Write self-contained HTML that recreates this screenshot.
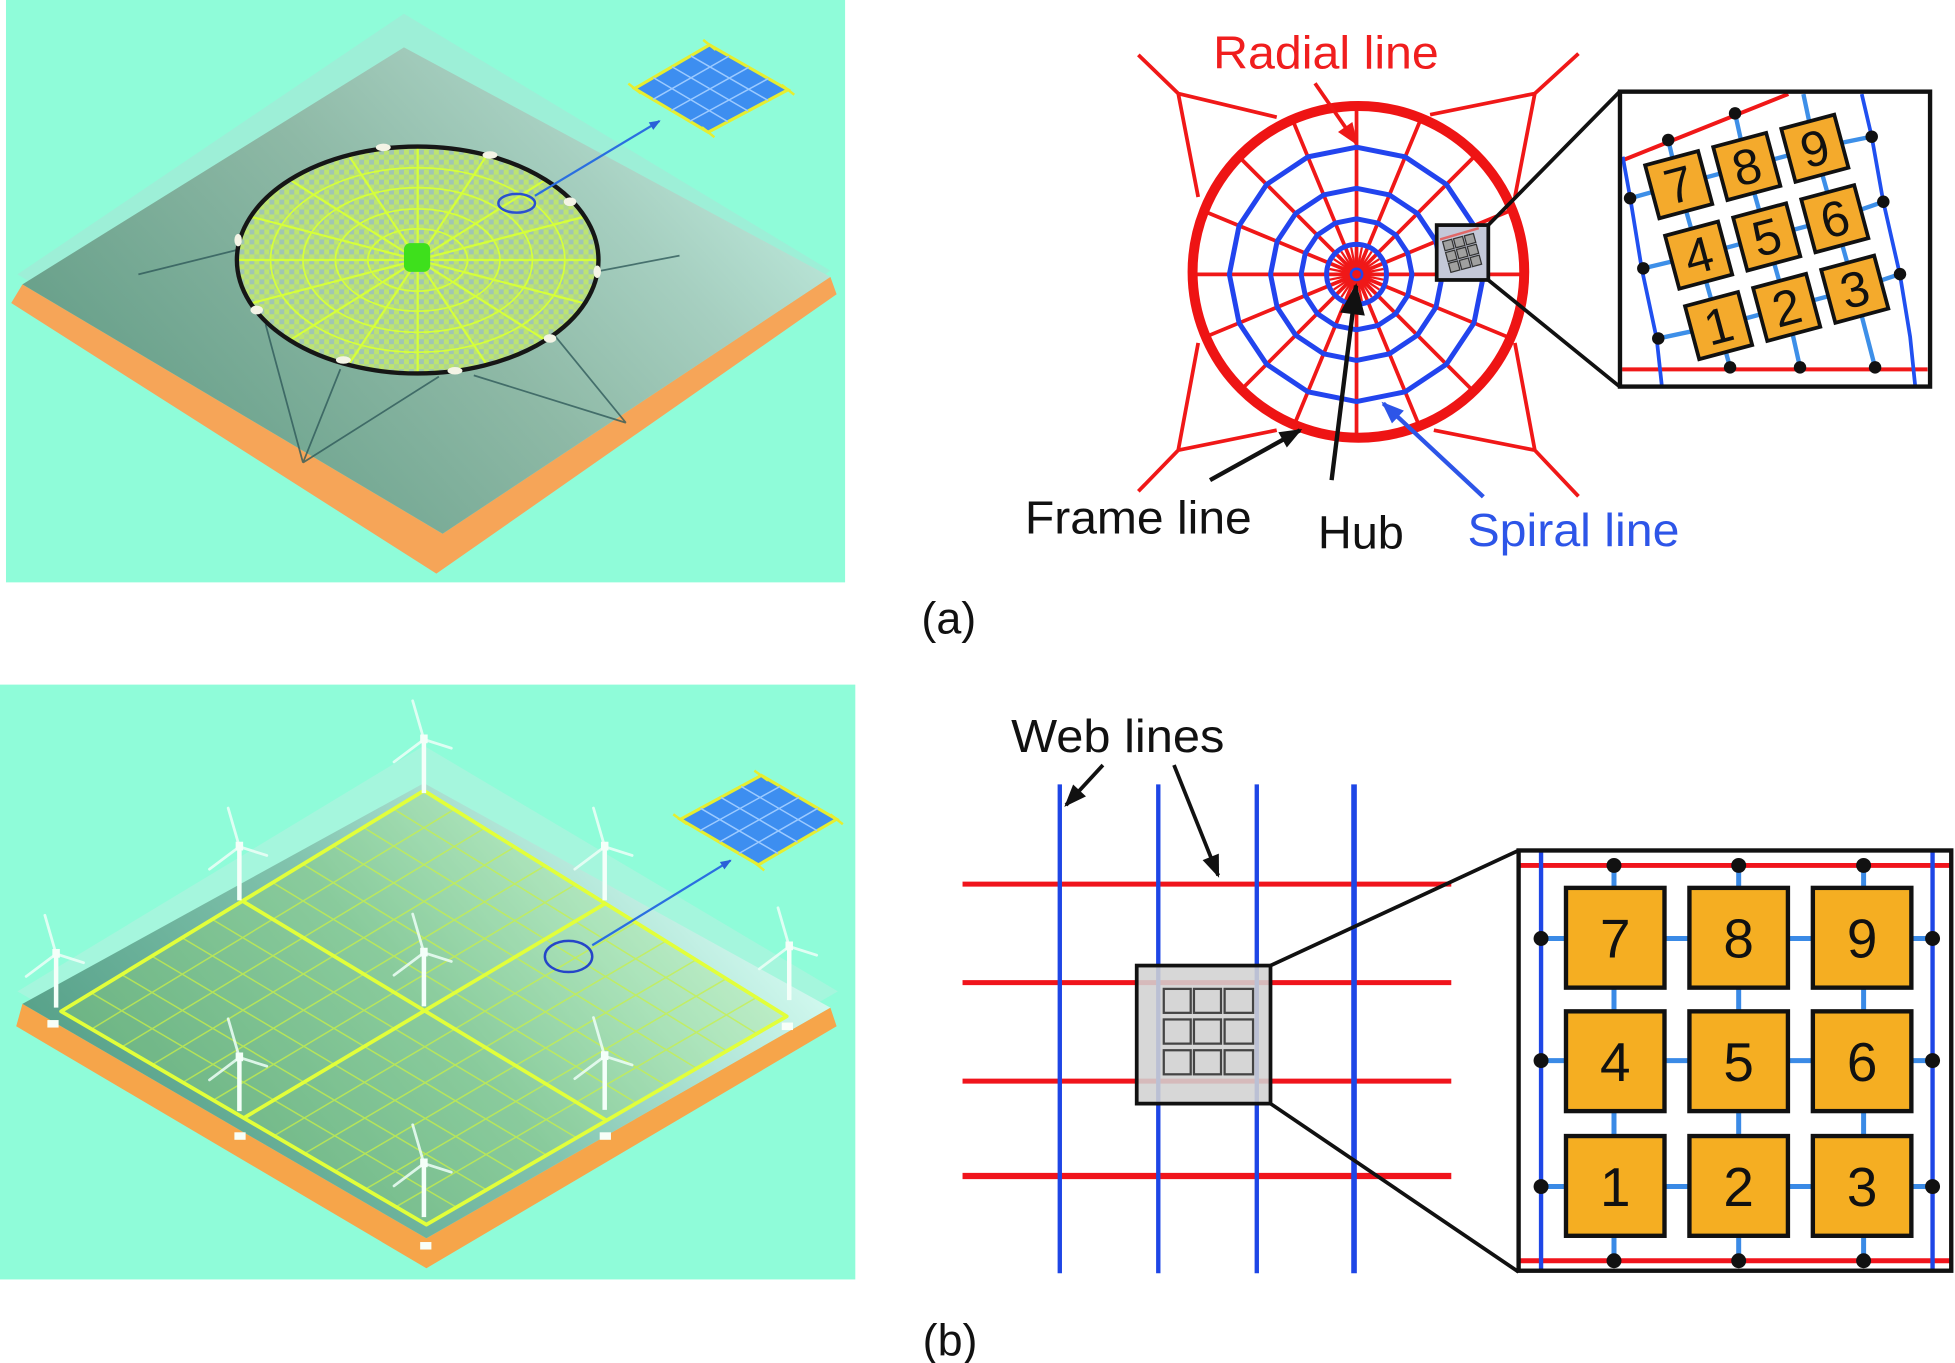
<!DOCTYPE html>
<html><head><meta charset="utf-8">
<style>
html,body{margin:0;padding:0;background:#fff;}
svg{display:block;}
text{font-family:"Liberation Sans",Arial,sans-serif;}
</style></head>
<body>
<svg width="1955" height="1363" viewBox="0 0 1568 1093" preserveAspectRatio="none" xmlns="http://www.w3.org/2000/svg">
<defs>
  <linearGradient id="plateA" gradientUnits="userSpaceOnUse" x1="150" y1="390" x2="520" y2="50">
    <stop offset="0" stop-color="#68a08a"/>
    <stop offset="0.5" stop-color="#8eb9a6"/>
    <stop offset="0.8" stop-color="#a6cfc0"/>
    <stop offset="1" stop-color="#b8e4d6"/>
  </linearGradient>
  <linearGradient id="plateB" gradientUnits="userSpaceOnUse" x1="150" y1="960" x2="520" y2="640">
    <stop offset="0" stop-color="#58a28a"/>
    <stop offset="0.5" stop-color="#82c4ae"/>
    <stop offset="0.8" stop-color="#b2e6d8"/>
    <stop offset="1" stop-color="#d0f8ee"/>
  </linearGradient>
  <pattern id="chk" patternUnits="userSpaceOnUse" width="8" height="8">
    <rect width="8" height="8" fill="#bde470"/>
    <rect width="4" height="4" fill="#98bcc8" opacity="0.75"/>
    <rect x="4" y="4" width="4" height="4" fill="#a4cca8" opacity="0.6"/>
  </pattern>
  <clipPath id="gridClip"><path d="M340,634 L631,815 L342,982 L49,811 Z"/></clipPath>
  <marker id="mK" markerUnits="userSpaceOnUse" markerWidth="20" markerHeight="16" refX="16" refY="7" orient="auto" style="overflow:visible"><path d="M0,0 L18,7 L0,14 z" fill="#111"/></marker>
  <marker id="mKbig" markerUnits="userSpaceOnUse" markerWidth="28" markerHeight="24" refX="23" refY="10" orient="auto" style="overflow:visible"><path d="M0,0 L25,10 L0,20 z" fill="#111"/></marker>
  <marker id="mR" markerUnits="userSpaceOnUse" markerWidth="20" markerHeight="16" refX="16" refY="7" orient="auto" style="overflow:visible"><path d="M0,0 L18,7 L0,14 z" fill="#ee1818"/></marker>
  <marker id="mB" markerUnits="userSpaceOnUse" markerWidth="20" markerHeight="16" refX="16" refY="7" orient="auto" style="overflow:visible"><path d="M0,0 L18,7 L0,14 z" fill="#2d55e8"/></marker>
  <marker id="mBs" markerUnits="userSpaceOnUse" markerWidth="10" markerHeight="8" refX="8" refY="3.5" orient="auto" style="overflow:visible"><path d="M0,0 L9,3.5 L0,7 z" fill="#2a60d8"/></marker>
  <g id="turb">
    <rect x="-1.8" y="-43" width="3.6" height="43" fill="#f4fff9"/>
    <path d="M0,-43 L-9,-74 M0,-43 L-24,-25 M0,-43 L22,-36" stroke="#eefff8" stroke-width="2.2" stroke-linecap="round" opacity="0.85"/>
    <rect x="-3" y="-47" width="6" height="7" fill="#f4fff9"/>
  </g>
</defs>

<!-- ================= TOP-LEFT PANEL ================= -->
<rect x="4.8" y="0" width="673" height="467" fill="#8ffcd9"/>
<polygon points="324,11 666,217 359,425 14,220" fill="#a6e6d6" opacity="0.6"/>
<polygon points="9,243 350,460 671,236 666,222 355,428 18,228" fill="#f6a558"/>
<polygon points="324,38 666,222 355,428 18,228" fill="url(#plateA)"/>
<path d="M192,200 L111,220 M213,260 L243,371 M273,296 L243,371 M352,302 L243,371 M444,268 L502,339 M380,301 L502,339 M477,218 L545,205" stroke="#2f5a5a" stroke-width="1.4" opacity="0.8" fill="none"/>
<ellipse cx="335" cy="208.5" rx="145" ry="91" fill="url(#chk)"/>
<g stroke="#d6ff3a" stroke-width="1.4" fill="none">
  <ellipse cx="335" cy="208.5" rx="118" ry="74"/>
  <ellipse cx="335" cy="208.5" rx="92" ry="58"/>
  <ellipse cx="335" cy="208.5" rx="66" ry="41"/>
  <ellipse cx="335" cy="208.5" rx="40" ry="25"/>
  <path d="M335,208.5 L480,208.5 M335,208.5 L469,243.3 M335,208.5 L437.5,272.8 M335,208.5 L390.5,292.6 M335,208.5 L335,299.5 M335,208.5 L279.5,292.6 M335,208.5 L232.5,272.8 M335,208.5 L201,243.3 M335,208.5 L190,208.5 M335,208.5 L201,173.7 M335,208.5 L232.5,144.2 M335,208.5 L279.5,124.4 M335,208.5 L335,117.5 M335,208.5 L390.5,124.4 M335,208.5 L437.5,144.2 M335,208.5 L469,173.7" stroke-width="1.8"/>
</g>
<ellipse cx="335" cy="208.5" rx="145" ry="91" fill="none" stroke="#161616" stroke-width="3.5"/>
<g fill="#f4f4e6">
  <ellipse cx="307.4" cy="118.2" rx="6" ry="3"/>
  <ellipse cx="393" cy="124.3" rx="6" ry="3"/>
  <ellipse cx="457.2" cy="161.8" rx="5" ry="3.5"/>
  <ellipse cx="479" cy="217.9" rx="3" ry="5"/>
  <ellipse cx="441.1" cy="271.4" rx="5" ry="3.5"/>
  <ellipse cx="364.9" cy="297.3" rx="6" ry="3"/>
  <ellipse cx="275.4" cy="288.7" rx="6" ry="3"/>
  <ellipse cx="205.9" cy="248.6" rx="5" ry="3.5"/>
  <ellipse cx="191" cy="192.5" rx="3" ry="5"/>
</g>
<rect x="324" y="195" width="21" height="23" rx="5" fill="#3ee01c"/>
<ellipse cx="414.4" cy="163" rx="14.7" ry="7.5" fill="none" stroke="#2a4fd0" stroke-width="2"/>
<line x1="429" y1="157" x2="529" y2="97" stroke="#2a6fe0" stroke-width="1.8" marker-end="url(#mBs)"/>
<polygon points="569,36 632,72 568,106 509,71" fill="#3d8ef0" stroke="#e6ee30" stroke-width="2.5"/>
<path d="M523.75,79.75 L584.75,45 M538.5,88.5 L600.5,54 M553.25,97.25 L616.25,63 M524,62.25 L583.75,97.5 M539,53.5 L600,89 M554,44.75 L616,80.5" stroke="#9ccaff" stroke-width="1.2"/>
<path d="M564,32 L574,40 M627,68 L637,76 M563,102 L573,110 M504,67 L514,75" stroke="#e6ee30" stroke-width="2"/>

<!-- ================= BOTTOM-LEFT PANEL ================= -->
<rect x="0" y="549" width="686" height="477" fill="#8ffcd9"/>
<polygon points="340,598 672,795 342,985 14,795" fill="#c0f0e2" opacity="0.45"/>
<polygon points="13,823 342,1017 671,823 666,808 342,993 18,805" fill="#f6a54a"/>
<polygon points="340,628 666,808 342,993 18,805" fill="url(#plateB)"/>
<path d="M340,634 L631,815 L342,982 L49,811 Z" fill="#9ee070" opacity="0.28"/>
<g clip-path="url(#gridClip)" stroke="#c8f048" stroke-width="1.2" opacity="0.75">
  <path d="M73.4,825.25 L364.25,649.1 M97.8,839.5 L388.5,664.2 M122.25,853.75 L412.75,679.25 M146.7,868 L437,694.3 M171.1,882.25 L461.25,709.4 M219.9,910.75 L509.75,739.6 M244.3,925 L534,754.7 M268.75,939.25 L558.25,769.75 M293.2,953.5 L582.5,784.8 M317.6,967.75 L606.75,799.9"/>
  <path d="M73.25,796.25 L366.1,968.1 M97.5,781.5 L390.2,954.2 M121.75,766.75 L414.25,940.25 M146,752 L438.3,926.3 M170.25,737.25 L462.4,912.4 M218.75,707.75 L510.6,884.6 M243,693 L534.7,870.7 M267.25,678.25 L558.75,856.75 M291.5,663.5 L582.8,842.8 M315.75,648.75 L606.9,828.9"/>
</g>
<path d="M340,634 L631,815 L342,982 L49,811 Z" fill="none" stroke="#e2ff3a" stroke-width="3" stroke-linejoin="round"/>
<path d="M195.5,896.5 L485.5,724.5 M194.5,722.5 L486.5,898.5" stroke="#e2ff3a" stroke-width="3"/>
<g fill="#f8fff8">
  <rect x="38" y="818" width="9" height="6"/>
  <rect x="188" y="908" width="9" height="6"/>
  <rect x="481" y="908" width="9" height="6"/>
  <rect x="627" y="820" width="9" height="6"/>
  <rect x="337" y="996" width="9" height="6"/>
</g>
<use href="#turb" x="340" y="636"/>
<use href="#turb" x="192" y="722"/>
<use href="#turb" x="485" y="722"/>
<use href="#turb" x="45" y="808"/>
<use href="#turb" x="340" y="807"/>
<use href="#turb" x="633" y="802"/>
<use href="#turb" x="192" y="891"/>
<use href="#turb" x="485" y="890"/>
<use href="#turb" x="340" y="976"/>
<ellipse cx="456" cy="767" rx="19" ry="12.5" fill="none" stroke="#2545c8" stroke-width="2"/>
<line x1="475" y1="758" x2="586" y2="690" stroke="#2a6fe0" stroke-width="1.8" marker-end="url(#mBs)"/>
<polygon points="610.6,621.8 671,657 608.3,693.5 545.7,657" fill="#3d8ef0" stroke="#e6ee30" stroke-width="2.5"/>
<path d="M561.35,666.1 L625.7,630.6 M577,675.25 L640.8,639.4 M592.65,684.4 L655.9,648.2 M561.9,648.2 L624,684.4 M578.15,639.4 L639.65,675.25 M594.4,630.6 L655.3,666.1" stroke="#9ccaff" stroke-width="1.2"/>
<path d="M605,618 L616,626 M666,653 L676,661 M603,690 L613,698 M540,653 L551,661" stroke="#e6ee30" stroke-width="2"/>

<!-- ================= (a) SPIDER WEB DIAGRAM ================= -->
<g stroke="#f01818" stroke-width="3" fill="none">
  <path d="M913,44 L945,75 L1024,94 M945,75 L961,158 M1266,43 L1231,75 L1147,92 M1231,75 L1215,158 M913,394 L945,361 L1024,345 M945,361 L961,275 M1266,398 L1231,361 L1150,345 M1231,361 L1215,275"/>
  <path d="M1088,220 L1221,220 M1088,220 L1210.9,270.9 M1088,220 L1182,314 M1088,220 L1138.9,342.9 M1088,220 L1088,353 M1088,220 L1037.1,342.9 M1088,220 L994,314 M1088,220 L965.1,270.9 M1088,220 L955,220 M1088,220 L965.1,169.1 M1088,220 L994,126 M1088,220 L1037.1,97.1 M1088,220 L1088,87 M1088,220 L1138.9,97.1 M1088,220 L1182,126 M1088,220 L1210.9,169.1"/>
  <path stroke-width="1.8" d="M1066,220 L1110,220 M1066.42,215.71 L1109.58,224.29 M1067.67,211.58 L1108.33,228.42 M1069.71,207.78 L1106.29,232.22 M1072.44,204.44 L1103.56,235.56 M1075.78,201.71 L1100.22,238.29 M1079.58,199.67 L1096.42,240.33 M1083.71,198.42 L1092.29,241.58 M1088,198 L1088,242 M1092.29,198.42 L1083.71,241.58 M1096.42,199.67 L1079.58,240.33 M1100.22,201.71 L1075.78,238.29 M1103.56,204.44 L1072.44,235.56 M1106.29,207.78 L1069.71,232.22 M1108.33,211.58 L1067.67,228.42 M1109.58,215.71 L1066.42,224.29"/>
</g>
<circle cx="1089.5" cy="218" r="133" fill="none" stroke="#ee1414" stroke-width="8"/>
<g stroke="#2244ee" stroke-width="4" fill="none" stroke-linejoin="round">
  <polygon points="1190,220 1182.2,259 1160.1,292.1 1127,314.2 1088,322 1049,314.2 1015.9,292.1 993.8,259 986,220 993.8,181 1015.9,147.9 1049,125.8 1088,118 1127,125.8 1160.1,147.9 1182.2,181"/>
  <polygon points="1157,220 1151.7,246.4 1136.8,268.8 1114.4,283.7 1088,289 1061.6,283.7 1039.2,268.8 1024.3,246.4 1019,220 1024.3,193.6 1039.2,171.2 1061.6,156.3 1088,151 1114.4,156.3 1136.8,171.2 1151.7,193.6"/>
  <polygon points="1132.5,220 1129.1,237 1119.5,251.5 1105,261.1 1088,264.5 1071,261.1 1056.5,251.5 1046.9,237 1043.5,220 1046.9,203 1056.5,188.5 1071,178.9 1088,175.5 1105,178.9 1119.5,188.5 1129.1,203"/>
  <circle cx="1088" cy="220" r="24"/>
</g>
<circle cx="1088" cy="220" r="4.5" fill="#f01818" stroke="#2244ee" stroke-width="2"/>
<rect x="1152.3" y="180.5" width="41.4" height="44" fill="#c4c8d8" stroke="#111" stroke-width="3"/>
<path d="M1155,192 L1186,183" stroke="#e06868" stroke-width="2"/>
<g transform="translate(1173,203) rotate(-15)" fill="#a0a0a0" stroke="#333" stroke-width="1">
  <rect x="-13" y="-13" width="7.5" height="7.5"/><rect x="-4" y="-13" width="7.5" height="7.5"/><rect x="5" y="-13" width="7.5" height="7.5"/>
  <rect x="-13" y="-4" width="7.5" height="7.5"/><rect x="-4" y="-4" width="7.5" height="7.5"/><rect x="5" y="-4" width="7.5" height="7.5"/>
  <rect x="-13" y="5" width="7.5" height="7.5"/><rect x="-4" y="5" width="7.5" height="7.5"/><rect x="5" y="5" width="7.5" height="7.5"/>
</g>
<path d="M1193.7,180.5 L1299,73.5 M1193.7,224.6 L1299,310" stroke="#111" stroke-width="3"/>
<rect x="1299.3" y="73.5" width="248.7" height="236.5" fill="#fff"/>
<path d="M1302,128.3 L1434.3,75.4 M1301,296.2 L1546,296.2" stroke="#f01818" stroke-width="3.2"/>
<g fill="none" stroke-width="3.5" stroke-linejoin="round">
  <polyline points="1307.4,159 1346.4,148.1 1401,133.5 1455.6,118.9 1501.2,109.6" stroke="#3d8fe8"/>
  <polyline points="1318,215.2 1362.4,204.6 1417,190 1471.6,175.4 1510.5,161.8" stroke="#3d8fe8"/>
  <polyline points="1330,271.4 1378.4,261.1 1433,246.5 1487.6,231.9 1523.9,219.8" stroke="#3d8fe8"/>
  <polyline points="1338,112.3 1346.4,148.1 1362.4,204.6 1378.4,261.1 1387.6,294.6" stroke="#3d8fe8"/>
  <polyline points="1391.6,90.9 1401,133.5 1417,190 1433,246.5 1443.7,294.6" stroke="#3d8fe8"/>
  <polyline points="1446.4,75.4 1455.6,118.9 1471.6,175.4 1487.6,231.9 1503.9,294.6" stroke="#3d8fe8"/>
  <polyline points="1301.5,125.7 1307.4,158 1316.7,215.2 1328.7,271.4 1332.8,308.8" stroke="#2050f0" stroke-width="3"/>
  <polyline points="1493.2,75.4 1501.2,109.6 1510.5,161.8 1523.9,220.6 1532,270 1536,308.8" stroke="#2050f0" stroke-width="3"/>
</g>
<g font-size="40" text-anchor="middle" fill="#111">
  <g transform="translate(1346.4,148.1) rotate(-15)"><rect x="-22" y="-22" width="44" height="44" fill="#f4aa2c" stroke="#111" stroke-width="3"/><text x="0" y="14">7</text></g>
  <g transform="translate(1401,133.5) rotate(-15)"><rect x="-22" y="-22" width="44" height="44" fill="#f4aa2c" stroke="#111" stroke-width="3"/><text x="0" y="14">8</text></g>
  <g transform="translate(1455.6,118.9) rotate(-15)"><rect x="-22" y="-22" width="44" height="44" fill="#f4aa2c" stroke="#111" stroke-width="3"/><text x="0" y="14">9</text></g>
  <g transform="translate(1362.4,204.6) rotate(-15)"><rect x="-22" y="-22" width="44" height="44" fill="#f4aa2c" stroke="#111" stroke-width="3"/><text x="0" y="14">4</text></g>
  <g transform="translate(1417,190) rotate(-15)"><rect x="-22" y="-22" width="44" height="44" fill="#f4aa2c" stroke="#111" stroke-width="3"/><text x="0" y="14">5</text></g>
  <g transform="translate(1471.6,175.4) rotate(-15)"><rect x="-22" y="-22" width="44" height="44" fill="#f4aa2c" stroke="#111" stroke-width="3"/><text x="0" y="14">6</text></g>
  <g transform="translate(1378.4,261.1) rotate(-15)"><rect x="-22" y="-22" width="44" height="44" fill="#f4aa2c" stroke="#111" stroke-width="3"/><text x="0" y="14">1</text></g>
  <g transform="translate(1433,246.5) rotate(-15)"><rect x="-22" y="-22" width="44" height="44" fill="#f4aa2c" stroke="#111" stroke-width="3"/><text x="0" y="14">2</text></g>
  <g transform="translate(1487.6,231.9) rotate(-15)"><rect x="-22" y="-22" width="44" height="44" fill="#f4aa2c" stroke="#111" stroke-width="3"/><text x="0" y="14">3</text></g>
</g>
<g fill="#111">
  <circle cx="1391.6" cy="90.9" r="5"/><circle cx="1338" cy="112.3" r="5"/>
  <circle cx="1307.4" cy="159" r="5"/><circle cx="1318" cy="215.2" r="5"/><circle cx="1330" cy="271.4" r="5"/>
  <circle cx="1387.6" cy="294.6" r="5"/><circle cx="1443.7" cy="294.6" r="5"/><circle cx="1503.9" cy="294.6" r="5"/>
  <circle cx="1501.2" cy="109.6" r="5"/><circle cx="1510.5" cy="161.8" r="5"/><circle cx="1523.9" cy="219.8" r="5"/>
</g>
<rect x="1299.3" y="73.5" width="248.7" height="236.5" fill="none" stroke="#111" stroke-width="3.5"/>
<line x1="1054.7" y1="66.8" x2="1088" y2="115" stroke="#ee1818" stroke-width="3" marker-end="url(#mR)"/>
<line x1="1068" y1="385" x2="1087.6" y2="229" stroke="#111" stroke-width="3.5" marker-end="url(#mKbig)"/>
<line x1="970.5" y1="385" x2="1042.7" y2="345" stroke="#111" stroke-width="3.5" marker-end="url(#mK)"/>
<line x1="1189.7" y1="398.4" x2="1109.5" y2="323.5" stroke="#2d55e8" stroke-width="3.5" marker-end="url(#mB)"/>
<text x="973" y="55" font-size="37" fill="#f01e1e" textLength="181" lengthAdjust="spacingAndGlyphs">Radial line</text>
<text x="822" y="428" font-size="37" fill="#111" textLength="182" lengthAdjust="spacingAndGlyphs">Frame line</text>
<text x="1057" y="440" font-size="37" fill="#111" textLength="69" lengthAdjust="spacingAndGlyphs">Hub</text>
<text x="1177" y="438" font-size="37" fill="#2d55e8" textLength="170" lengthAdjust="spacingAndGlyphs">Spiral line</text>
<text x="739" y="508" font-size="36" fill="#111">(a)</text>

<!-- ================= (b) GRID DIAGRAM ================= -->
<g stroke="#f0141c" stroke-width="4">
  <path d="M772,709 L1164,709 M772,788 L1164,788 M772,867 L1164,867"/>
  <path d="M772,943 L1164,943" stroke-width="5"/>
</g>
<g stroke="#1e46e6" stroke-width="3.5">
  <path d="M850,629 L850,1021 M929,629 L929,1021 M1008,629 L1008,1021"/>
  <path d="M1086,629 L1086,1021" stroke-width="4.5"/>
</g>
<rect x="911.7" y="774.3" width="107.3" height="110.7" fill="#d2d2d2" fill-opacity="0.88" stroke="#111" stroke-width="3"/>
<g fill="#d6d6d6" stroke="#444" stroke-width="1.8">
  <rect x="933.4" y="793" width="21.6" height="19.2"/><rect x="957.6" y="793" width="21.7" height="19.2"/><rect x="982.2" y="793" width="22.8" height="19.2"/>
  <rect x="933.4" y="817.5" width="21.6" height="19.4"/><rect x="957.6" y="817.5" width="21.7" height="19.4"/><rect x="982.2" y="817.5" width="22.8" height="19.4"/>
  <rect x="933.4" y="842.2" width="21.6" height="19.3"/><rect x="957.6" y="842.2" width="21.7" height="19.3"/><rect x="982.2" y="842.2" width="22.8" height="19.3"/>
</g>
<path d="M1019,774.3 L1218,682 M1019,885 L1218,1020" stroke="#111" stroke-width="3"/>
<rect x="1218" y="682" width="347" height="337" fill="#fff"/>
<path d="M1219,694 L1564,694 M1219,1011 L1564,1011" stroke="#f0141c" stroke-width="4"/>
<path d="M1236,683 L1236,1018 M1550,683 L1550,1018" stroke="#1e46e6" stroke-width="3.5"/>
<g stroke="#3a8ae6" stroke-width="4">
  <path d="M1236,752.6 L1550,752.6 M1236,850.5 L1550,850.5 M1236,951.5 L1550,951.5"/>
  <path d="M1294.5,694 L1294.5,1011 M1394.5,694 L1394.5,1011 M1494.7,694 L1494.7,1011"/>
</g>
<g fill="#f5ae22" stroke="#111" stroke-width="3.5">
  <rect x="1256" y="712" width="79" height="80"/><rect x="1355" y="712" width="79" height="80"/><rect x="1454" y="712" width="79" height="80"/>
  <rect x="1256" y="811" width="79" height="80"/><rect x="1355" y="811" width="79" height="80"/><rect x="1454" y="811" width="79" height="80"/>
  <rect x="1256" y="911" width="79" height="80"/><rect x="1355" y="911" width="79" height="80"/><rect x="1454" y="911" width="79" height="80"/>
</g>
<g font-size="44" text-anchor="middle" fill="#111">
  <text x="1295.5" y="768">7</text><text x="1394.5" y="768">8</text><text x="1493.5" y="768">9</text>
  <text x="1295.5" y="867">4</text><text x="1394.5" y="867">5</text><text x="1493.5" y="867">6</text>
  <text x="1295.5" y="967">1</text><text x="1394.5" y="967">2</text><text x="1493.5" y="967">3</text>
</g>
<g fill="#111">
  <circle cx="1294.5" cy="694" r="6"/><circle cx="1394.5" cy="694" r="6"/><circle cx="1494.7" cy="694" r="6"/>
  <circle cx="1294.5" cy="1011" r="6"/><circle cx="1394.5" cy="1011" r="6"/><circle cx="1494.7" cy="1011" r="6"/>
  <circle cx="1236" cy="752.6" r="6"/><circle cx="1236" cy="850.5" r="6"/><circle cx="1236" cy="951.5" r="6"/>
  <circle cx="1550" cy="752.6" r="6"/><circle cx="1550" cy="850.5" r="6"/><circle cx="1550" cy="951.5" r="6"/>
</g>
<rect x="1218" y="682" width="347" height="337" fill="none" stroke="#111" stroke-width="3.5"/>
<text x="811" y="603" font-size="37" fill="#111" textLength="171" lengthAdjust="spacingAndGlyphs">Web lines</text>
<line x1="884.6" y1="613.5" x2="855" y2="645.6" stroke="#111" stroke-width="3" marker-end="url(#mK)"/>
<line x1="941.6" y1="613.5" x2="977" y2="702" stroke="#111" stroke-width="3" marker-end="url(#mK)"/>
<text x="740" y="1087" font-size="36" fill="#111">(b)</text>
</svg>
</body></html>
